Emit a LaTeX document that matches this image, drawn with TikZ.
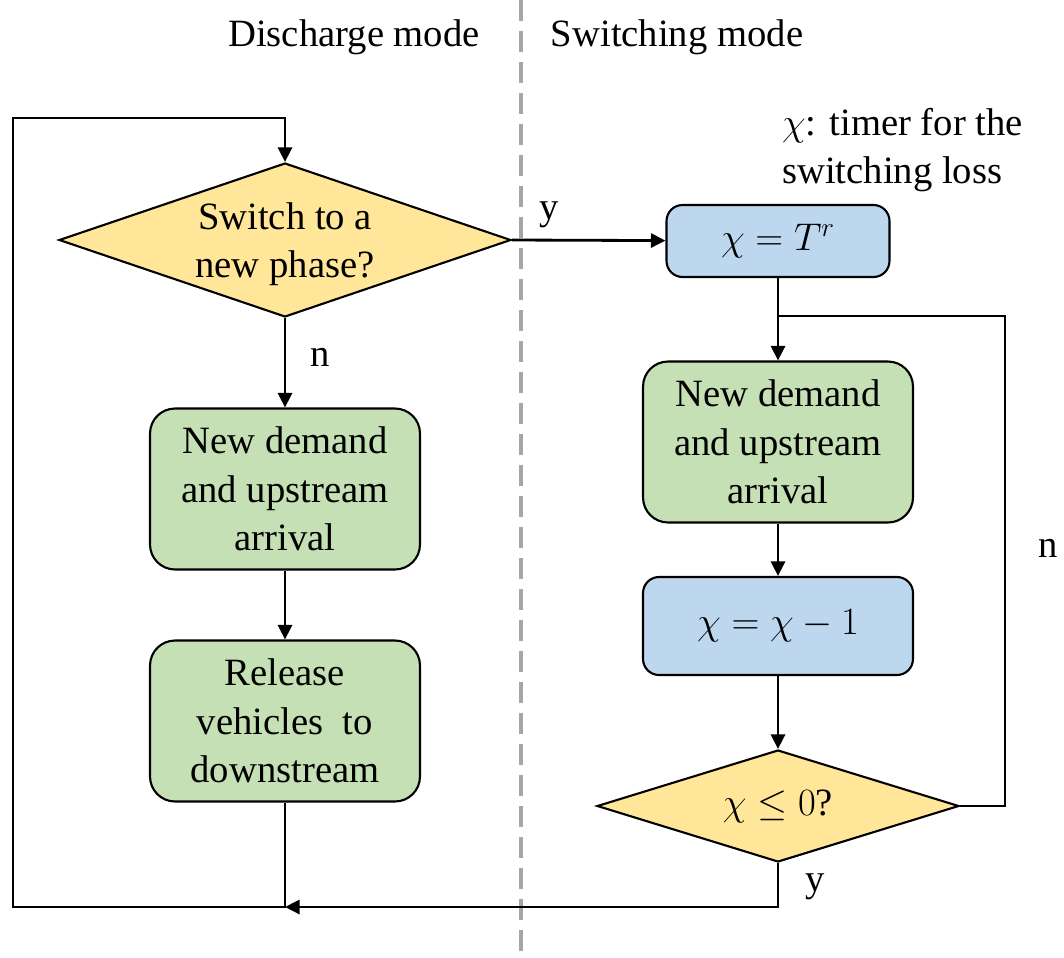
\documentclass[tikz,border=0pt]{standalone}
\usepackage{fix-cm}
\usepackage{amsmath}
\usepackage{fontspec}
\setmainfont{Liberation Serif}
\usepackage{tikz}
\usetikzlibrary{shapes.geometric, arrows.meta, positioning}
\definecolor{colorDecision}{HTML}{FFE699}
\definecolor{colorTraffic}{HTML}{C5E0B4}
\definecolor{colorTimer}{HTML}{BDD7EE}
\definecolor{colorDivider}{HTML}{A6A6A6}
\tikzset{
  base/.style={draw=black, line width=1.2pt, align=center, inner sep=0pt},
  decision/.style={base, diamond, fill=colorDecision},
  traffic/.style={base, rounded corners=0.5cm, fill=colorTraffic,
    minimum width=5.4cm, minimum height=3.22cm},
  timer/.style={base, rounded corners=0.32cm, fill=colorTimer},
  flow/.style={line width=1.6pt, -{Triangle[length=2.9mm,width=2.8mm]}},
  link/.style={line width=1.6pt},
  divider/.style={colorDivider, line width=2pt, dash pattern=on 0.42cm off 0.2cm},
}

\begin{document}
\begin{tikzpicture}[x=0.02cm, y=-0.02cm,
    every node/.append style={font=\fontsize{22}{27.5}\selectfont}]
    \useasboundingbox (0,0) rectangle (1064,957);

    % modes
    \draw[divider] (521,0) -- (521,957);
    \node (discharge) at (354,37) {Discharge mode};
    \node (switching) at (677,37) {Switching mode};

    % discharge mode
    \node[decision, minimum width=9.04cm, minimum height=3.08cm] (newphase) at (285,240) {};
    \node[align=center] (newphasetext) at (285,244) {Switch to a\\new phase?};
    \node[traffic] (arrival) at (285,489) {New demand\\and upstream\\arrival};
    \node[traffic] (release) at (285,721) {Release\\vehicles~~to\\downstream};

    % switching mode
    \node[timer, minimum width=4.46cm, minimum height=1.44cm] (settimer) at (778,241) {$\chi = T^r$};
    \node[traffic] (arrivalsw) at (778,442) {New demand\\and upstream\\arrival};
    \node[timer, minimum width=5.4cm, minimum height=1.96cm] (countdown) at (778,626) {$\chi = \chi - 1$};
    \node[decision, minimum width=7.24cm, minimum height=2.24cm] (timeout) at (778,806) {};
    \node (timeouttext) at (timeout) {$\chi \leq 0$?};
    \node[anchor=west, align=left] (timernote) at (776,150) {$\chi$: timer for the\\switching loss};

    \coordinate (merge) at (285,907);
    \coordinate (loopbl) at (13,907);
    \coordinate (looptl) at (13,118);
    \coordinate (split) at (778,316);
    \coordinate (loopr) at (1005,316);

    % connectors
    \draw[flow] (newphase) -- (arrival);
    \draw[flow] (arrival) -- (release);
    \draw[flow] (release) -- (merge) -- (loopbl) -- (looptl) -| (newphase);
    \draw[flow] (newphase.east) -- (settimer);
    \draw[flow] (settimer) -- (arrivalsw);
    \draw[flow] (arrivalsw) -- (countdown);
    \draw[flow] (countdown) -- (timeout);
    \draw[link] (timeout.east) -| (loopr) -- (split);
    \draw[flow] (timeout.south) |- (merge);

    % branch labels
    \node (nphase) at (320,357) {n};
    \node (yphase) at (549,215) {y};
    \node (nloop) at (1048,548) {n};
    \node (yloop) at (815,887) {y};
\end{tikzpicture}
\end{document}
